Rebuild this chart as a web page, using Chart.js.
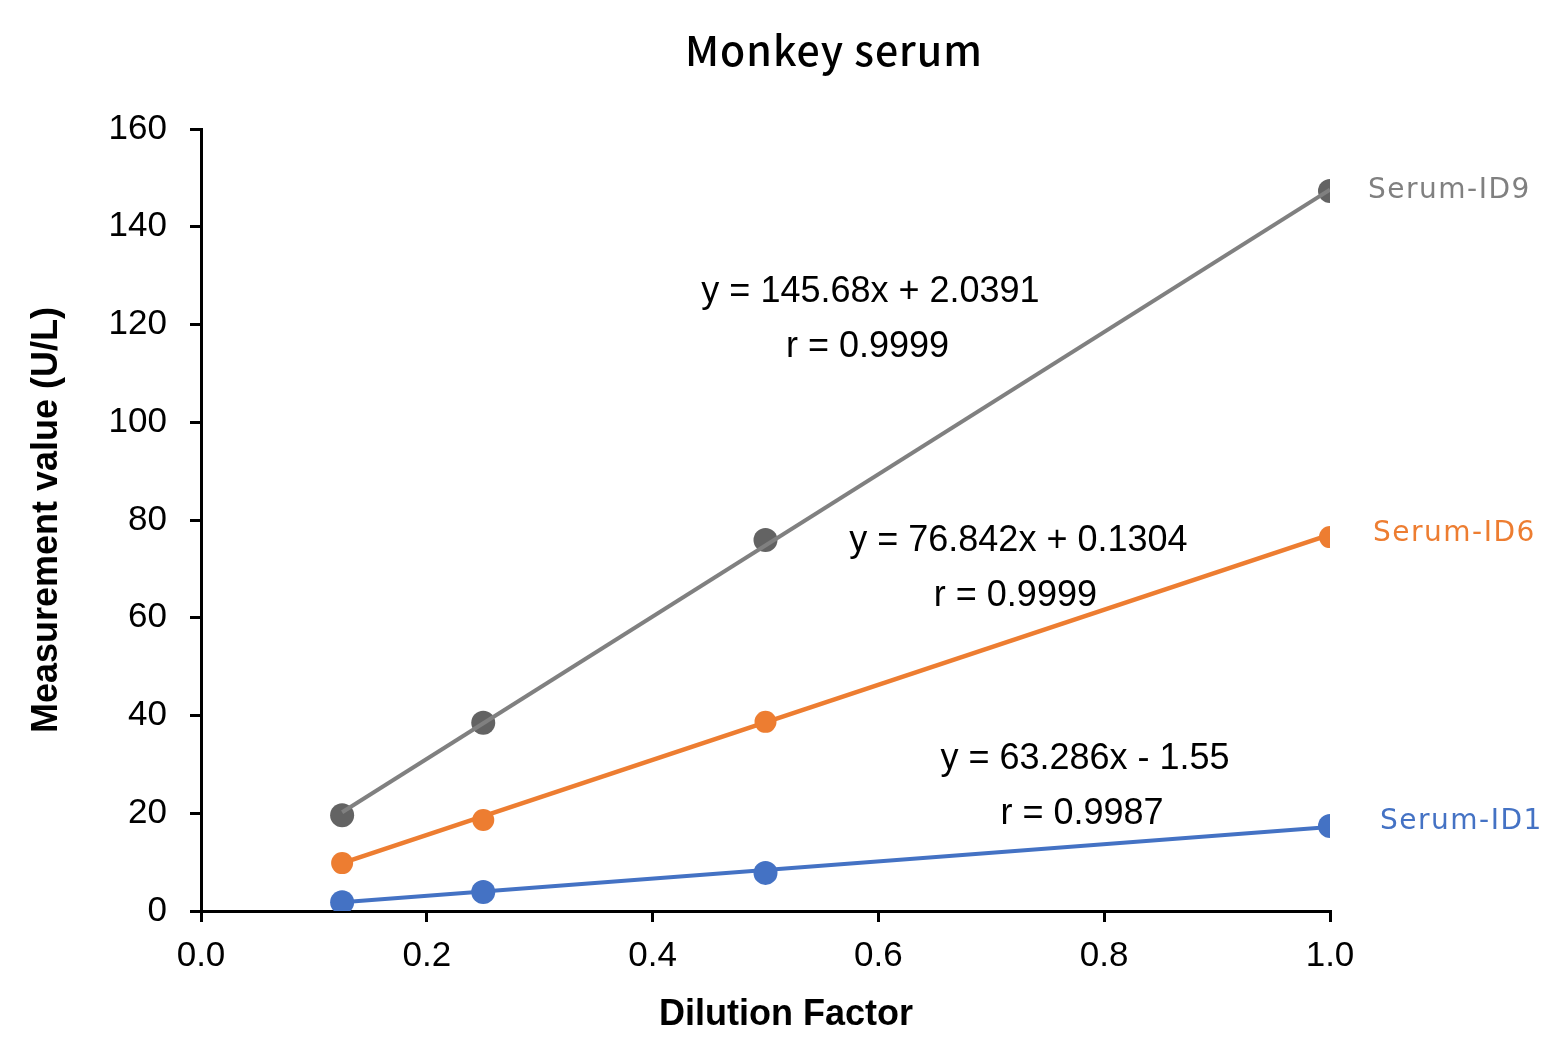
<!DOCTYPE html>
<html>
<head>
<meta charset="utf-8">
<title>Monkey serum</title>
<script src="https://cdn.jsdelivr.net/npm/chart.js@4.4.1/dist/chart.umd.min.js"></script>
<style>
  html, body { margin: 0; padding: 0; background: #fff; }
  #wrap { width: 1550px; height: 1060px; }
</style>
</head>
<body>
<div id="wrap"><canvas id="chart"></canvas></div>
<script>
// measured points (dilution factor -> U/L)
const dilution = [0.125, 0.25, 0.5, 1.0];
const serumId9 = [19.6, 38.5, 75.9, 147.3];
const serumId6 = [9.8, 18.6, 38.7, 76.5];
const serumId1 = [1.8, 3.9, 7.8, 17.4];

// trendline ends as drawn in the picture
const trendX = [0.125, 1.0];
const trend9 = [20.2, 147.6];
const trend6 = [9.8, 77.0];
const trend1 = [1.8, 17.2];

const seriesNames = ['Serum-ID9', 'Serum-ID6', 'Serum-ID1'];
const equations = ['y = 145.68x + 2.0391', 'y = 76.842x + 0.1304', 'y = 63.286x - 1.55'];
const rValues = ['r = 0.9999', 'r = 0.9999', 'r = 0.9987'];

const xTicks = [0, 0.2, 0.4, 0.6, 0.8, 1.0];
const yTicks = [0, 20, 40, 60, 80, 100, 120, 140, 160];

const GRAY = '#808080', GRAY_DOT = '#636363', ORANGE = '#ED7D31', BLUE = '#4472C4';
const ARIAL = '"Liberation Sans", Arial, sans-serif';
const JP = '"Noto Sans CJK JP", "Noto Sans", sans-serif';

const toPts = (xs, ys) => xs.map((x, i) => ({ x: x, y: ys[i] }));

function markerSet(name, ys, color, r, order) {
    return { label: name, data: toPts(dilution, ys), showLine: false, pointRadius: r,
             pointBackgroundColor: color, pointBorderColor: color, pointBorderWidth: 0, order: order };
}
function trendSet(ys, color, w, order) {
    return { label: 'trend', data: toPts(trendX, ys), showLine: true, pointRadius: 0,
             borderColor: color, borderWidth: w, order: order };
}

// text that sits on the plot: equations, series names, titles
const annotations = {
    id: 'annotations',
    afterDatasetsDraw(chart) {
        const ctx = chart.ctx, xs = chart.scales.x, ys = chart.scales.y;
        ctx.save();
        ctx.fillStyle = '#000';
        ctx.textAlign = 'center';
        ctx.textBaseline = 'middle';
        ctx.font = '36px ' + ARIAL;
        const eqPos = [[0.593, 126.6], [0.724, 75.7], [0.783, 31.1]];
        equations.forEach((t, i) => {
            const px = xs.getPixelForValue(eqPos[i][0]), py = ys.getPixelForValue(eqPos[i][1]);
            ctx.fillText(t, px, py);
            ctx.fillText(rValues[i], px - 3, py + 55);
        });

        // x axis title, Excel centres it a bit right of the axis
        ctx.font = 'bold 36px ' + ARIAL;
        ctx.fillText('Dilution Factor', 786, 1015);

        // series names to the right of the last point
        ctx.textAlign = 'left';
        ctx.font = '28px "DejaVu Sans", sans-serif';
        ctx.letterSpacing = '1.5px';
        const nameColors = [GRAY, ORANGE, BLUE];
        const markerIdx = [1, 2, 4];
        const off = [[38, 0], [43, -3], [50, -4]];
        seriesNames.forEach((n, i) => {
            const meta = chart.getDatasetMeta(markerIdx[i]);
            const last = meta.data[meta.data.length - 1];
            ctx.fillStyle = nameColors[i];
            ctx.fillText(n, last.x + off[i][0], last.y + off[i][1]);
        });

        ctx.fillStyle = '#000';
        ctx.textAlign = 'center';
        ctx.letterSpacing = '1px';
        ctx.font = '500 41px ' + JP;
        ctx.fillText('Monkey serum', 834, 50);
        ctx.restore();
    }
};

new Chart(document.getElementById('chart'), {
    type: 'scatter',
    data: {
        datasets: [
            trendSet(trend9, GRAY, 4, 0),
            markerSet(seriesNames[0], serumId9, GRAY_DOT, 12, 1),
            markerSet(seriesNames[1], serumId6, ORANGE, 11, 2),
            trendSet(trend6, ORANGE, 4.5, 3),
            markerSet(seriesNames[2], serumId1, BLUE, 12, 4),
            trendSet(trend1, BLUE, 4, 5)
        ]
    },
    options: {
        responsive: true,
        maintainAspectRatio: false,
        devicePixelRatio: 1,
        animation: false,
        layout: { padding: { top: 129, right: 220, left: 0, bottom: 0 } },
        plugins: { legend: { display: false }, tooltip: { enabled: false }, title: { display: false } },
        scales: {
            x: {
                type: 'linear', min: 0, max: 1,
                afterBuildTicks: s => { s.ticks = xTicks.map(v => ({ value: v })); },
                afterFit: s => { s.height = 149; },
                ticks: { color: '#000', font: { family: ARIAL, size: 35 }, padding: 13,
                         callback: v => v.toFixed(1) },
                grid: { drawOnChartArea: false, drawTicks: true, tickLength: 11, color: '#000', lineWidth: 3 },
                border: { color: '#000', width: 3 }
            },
            y: {
                type: 'linear', min: 0, max: 160,
                afterBuildTicks: s => { s.ticks = yTicks.map(v => ({ value: v })); },
                afterFit: s => { s.width = 201; },
                ticks: { color: '#000', font: { family: ARIAL, size: 35 }, padding: 23 },
                grid: { drawOnChartArea: false, drawTicks: true, tickLength: 11, color: '#000', lineWidth: 3 },
                border: { color: '#000', width: 3 },
                title: { display: true, text: 'Measurement value (U/L)', color: '#000',
                         font: { family: ARIAL, size: 36, weight: 'bold' }, padding: { top: 25, bottom: 0 } }
            }
        }
    },
    plugins: [annotations]
});
</script>
</body>
</html>
